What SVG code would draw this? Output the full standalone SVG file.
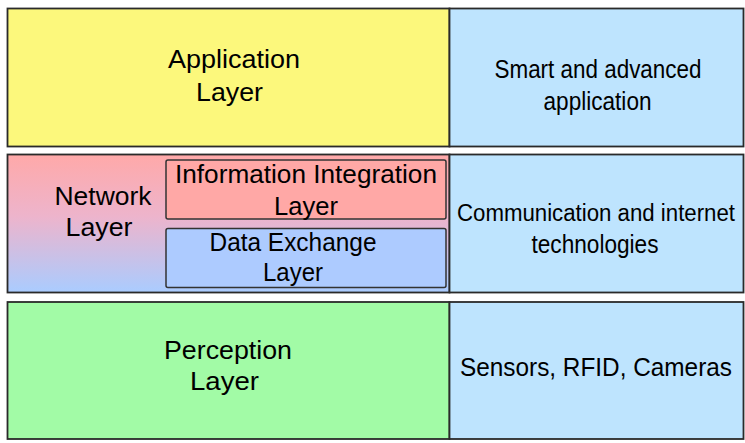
<svg xmlns="http://www.w3.org/2000/svg" width="745" height="443" viewBox="0 0 745 443">
<defs>
<linearGradient id="netGrad" x1="0" y1="0" x2="0" y2="1">
<stop offset="0" stop-color="#FFA9A9"/>
<stop offset="0.45" stop-color="#EDB4CC"/>
<stop offset="1" stop-color="#AACCFF"/>
</linearGradient>
<style>
.box{stroke:#2a2a2a;stroke-width:1.8}
.inner{stroke:#333;stroke-width:1.5}
text{font-family:"Liberation Sans",Arial,sans-serif;font-size:25.5px;fill:#000;text-anchor:middle}
</style>
</defs>
<rect x="0" y="0" width="745" height="443" fill="#ffffff"/>
<g id="application-layer">
<rect class="box" x="7.5" y="8.5" width="442" height="138" fill="#FCF87C"/>
<text x="234" y="67.5" textLength="132" lengthAdjust="spacingAndGlyphs">Application</text>
<text x="229.5" y="100.5" textLength="67" lengthAdjust="spacingAndGlyphs">Layer</text>
</g>
<g id="application-desc">
<rect class="box" x="449.5" y="8.5" width="294" height="138" fill="#BEE4FE"/>
<text x="598" y="77.5" textLength="207" lengthAdjust="spacingAndGlyphs">Smart and advanced</text>
<text x="597.5" y="110" textLength="108" lengthAdjust="spacingAndGlyphs">application</text>
</g>
<g id="network-layer">
<rect class="box" x="7.5" y="154.5" width="442" height="138" fill="url(#netGrad)"/>
<text x="103" y="204.5" textLength="97" lengthAdjust="spacingAndGlyphs">Network</text>
<text x="99" y="236" textLength="67" lengthAdjust="spacingAndGlyphs">Layer</text>
</g>
<g id="information-integration-layer">
<rect class="inner" x="166" y="160" width="280" height="59" rx="2" fill="#FFA8A6"/>
<text x="306" y="183" textLength="262" lengthAdjust="spacingAndGlyphs">Information Integration</text>
<text x="306" y="215" textLength="64" lengthAdjust="spacingAndGlyphs">Layer</text>
</g>
<g id="data-exchange-layer">
<rect class="inner" x="166" y="228.5" width="280" height="59" rx="2" fill="#ADCBFF"/>
<text x="293" y="251" textLength="167" lengthAdjust="spacingAndGlyphs">Data Exchange</text>
<text x="293" y="281" textLength="60" lengthAdjust="spacingAndGlyphs">Layer</text>
</g>
<g id="network-desc">
<rect class="box" x="449.5" y="154.5" width="294" height="138" fill="#BEE4FE"/>
<text x="596" y="221" style="font-size:23px" textLength="278" lengthAdjust="spacingAndGlyphs">Communication and internet</text>
<text x="595" y="253" textLength="127" lengthAdjust="spacingAndGlyphs">technologies</text>
</g>
<g id="perception-layer">
<rect class="box" x="7.5" y="302" width="442" height="137" fill="#A2FBA6"/>
<text x="228" y="359" textLength="128" lengthAdjust="spacingAndGlyphs">Perception</text>
<text x="224.5" y="389.5" textLength="69" lengthAdjust="spacingAndGlyphs">Layer</text>
</g>
<g id="perception-desc">
<rect class="box" x="449.5" y="302" width="294" height="137" fill="#BEE4FE"/>
<text x="596" y="376" textLength="272" lengthAdjust="spacingAndGlyphs">Sensors, RFID, Cameras</text>
</g>
<g id="connectors"></g>
</svg>
